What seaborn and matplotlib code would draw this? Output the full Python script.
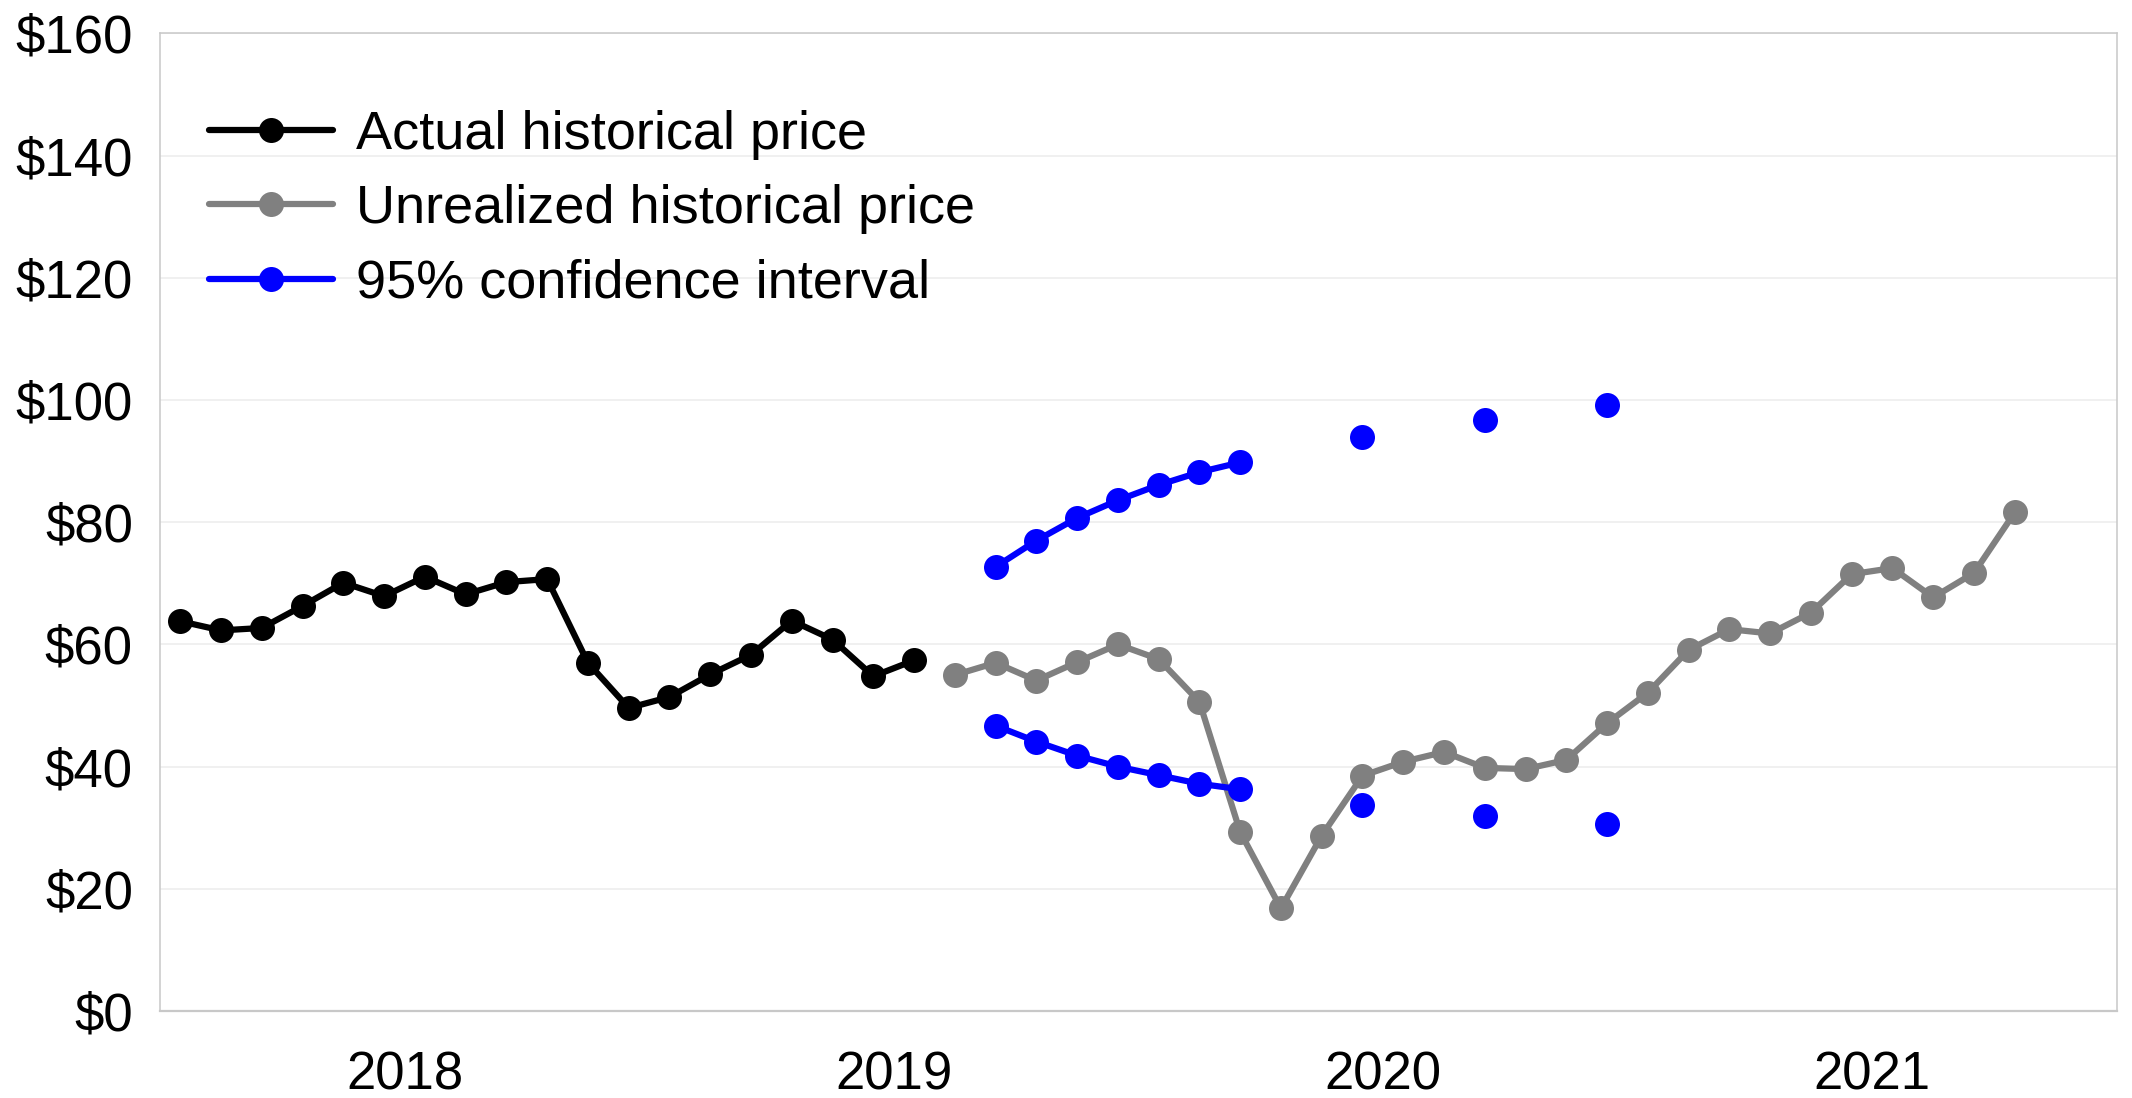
"""Actual vs unrealized price with a 95% confidence band, monthly 2018-2021."""

import matplotlib

matplotlib.use("Agg")

import matplotlib.pyplot as plt
import numpy as np
import pandas as pd
import seaborn as sns
from matplotlib.lines import Line2D
from matplotlib.ticker import FuncFormatter

# --- data (month index 0 = Jan 2018) ---
years = ["2018", "2019", "2020", "2021"]

actual_months = list(range(0, 19))
actual_price = [63.8, 62.3, 62.7, 66.3, 70.1, 67.9, 71.1, 68.2, 70.2, 70.7,
                57.0, 49.6, 51.4, 55.1, 58.3, 63.9, 60.8, 54.8, 57.4]

unrealized_months = list(range(19, 46))
unrealized_price = [55.0, 57.0, 54.1, 57.1, 60.0, 57.6, 50.6, 29.3, 16.8,
                    28.7, 38.5, 40.8, 42.4, 39.8, 39.6, 41.1, 47.1, 52.1,
                    59.1, 62.5, 61.8, 65.2, 71.5, 72.5, 67.7, 71.7, 81.6]

ci_months = [20, 21, 22, 23, 24, 25, 26, 29, 32, 35]
ci_segment = [0, 0, 0, 0, 0, 0, 0, 1, 2, 3]
ci_upper = [72.7, 77.0, 80.7, 83.6, 86.1, 88.2, 89.8, 93.9, 96.8, 99.2]
ci_lower = [46.7, 44.1, 41.8, 40.0, 38.6, 37.2, 36.3, 33.8, 32.0, 30.6]

labels = ["Actual historical price", "Unrealized historical price",
          "95% confidence interval"]
colors = ["#000000", "#808080", "#0000ff"]

sns.set_style("white")
plt.rcParams["font.family"] = ["Liberation Sans", "DejaVu Sans"]
plt.rcParams["text.color"] = "black"
plt.rcParams["xtick.labelcolor"] = "black"
plt.rcParams["ytick.labelcolor"] = "black"

FS = 38
FS_LEG = 39
MS = 18
LW = 4.5
GRID = "#ececec"
FRAME = "#c8c8c8"

fig = plt.figure(figsize=(21.32, 10.98), dpi=100)
ax = fig.add_axes([0.075, 0.0792, 0.9178, 0.8903])

line_kw = dict(marker="o", markersize=MS, markeredgewidth=0, linewidth=LW,
               legend=False, zorder=3)

# points sit in the middle of each month
actual_df = pd.DataFrame({"x": np.array(actual_months) + 0.5, "y": actual_price})
sns.lineplot(data=actual_df, x="x", y="y", color=colors[0], ax=ax, **line_kw)

unreal_df = pd.DataFrame({"x": np.array(unrealized_months) + 0.5, "y": unrealized_price})
sns.lineplot(data=unreal_df, x="x", y="y", color=colors[1], ax=ax, **line_kw)

ci_df = pd.DataFrame({"x": np.array(ci_months) + 0.5, "seg": ci_segment,
                      "upper": ci_upper, "lower": ci_lower})
for col in ["upper", "lower"]:
    sns.lineplot(data=ci_df, x="x", y=col, units="seg", estimator=None,
                 color=colors[2], ax=ax, **line_kw)

# seaborn can scale widths down, so force them
for ln in ax.lines:
    ln.set_linewidth(LW)
    ln.set_markersize(MS)

# axes limits and ticks
ax.set_xlim(0, 48)
ax.set_ylim(0, 160)
ax.set_yticks(range(0, 161, 20))
ax.yaxis.set_major_formatter(FuncFormatter(lambda v, _: f"${v:.0f}"))
ax.tick_params(axis="y", length=0, pad=19.5, labelsize=FS)

month_ticks = list(range(0, 49))
month_labels = [""] * len(month_ticks)
for i, yr in enumerate(years):
    month_labels[12 * i + 6] = yr
ax.set_xticks(month_ticks)
ax.set_xticklabels(month_labels)
ax.set_xticks(list(range(0, 49, 12)), minor=True)
ax.tick_params(axis="x", which="major", length=7.7, width=1.1, color=FRAME,
               pad=21, labelsize=FS, direction="out")
ax.tick_params(axis="x", which="minor", length=14.4, width=1.1, color=FRAME,
               direction="out")
ax.set_xlabel("")
ax.set_ylabel("")

# grid: horizontal every $20, vertical at year boundaries
ax.grid(False)
ax.yaxis.grid(True, color=GRID, linewidth=1.1)
ax.xaxis.grid(True, which="minor", color=GRID, linewidth=1.1)
ax.set_axisbelow(True)

for side in ["left", "right", "top"]:
    ax.spines[side].set_visible(True)
    ax.spines[side].set_color(FRAME)
    ax.spines[side].set_linewidth(1.1)
ax.spines["bottom"].set_color(FRAME)
ax.spines["bottom"].set_linewidth(1.6)

handles = [Line2D([], [], color=c, linewidth=LW, marker="o", markersize=MS,
                  markeredgewidth=0) for c in colors]
ax.legend(handles, labels, loc="upper left", bbox_to_anchor=(0.025, 0.922),
          frameon=False, fontsize=FS_LEG, handlelength=2.3, handletextpad=0.42,
          labelspacing=0.45, borderpad=0, borderaxespad=0)

fig.savefig("out.png", dpi=100, facecolor="white")
